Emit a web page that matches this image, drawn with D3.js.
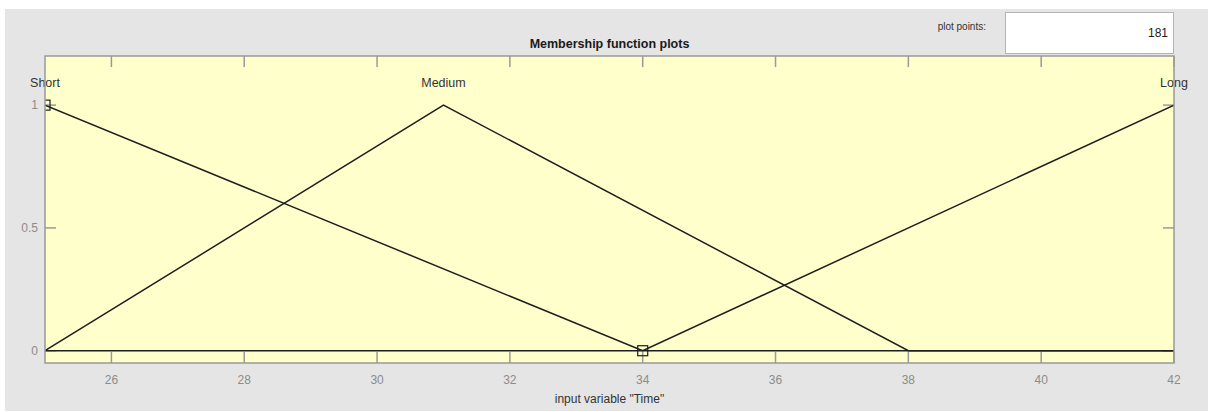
<!DOCTYPE html>
<html>
<head>
<meta charset="utf-8">
<script src="https://cdn.jsdelivr.net/npm/d3@7"></script>
<style>
  html, body { margin: 0; padding: 0; background: #ffffff; }
  svg { display: block; font-family: "Liberation Sans", Arial, sans-serif; }
</style>
</head>
<body>
<svg id="chart" width="1208" height="412"></svg>
<script>
// Membership functions of the input variable "Time" (vertices of each piecewise-linear MF)
const mfNames = ["Short", "Medium", "Long"];
const shortPts = [[25, 1], [34, 0], [42, 0]];
const mediumPts = [[25, 0], [31, 1], [38, 0], [42, 0]];
const longPts = [[25, 0], [34, 0], [42, 1]];
const mfPoints = [shortPts, mediumPts, longPts];
// label anchor (x position) for each MF name
const mfLabelX = [25, 31, 42];
// vertex markers of the highlighted MF
const markerPts = [[25, 1], [34, 0]];

const xTicks = [26, 28, 30, 32, 34, 36, 38, 40, 42];
const yTicks = [0, 0.5, 1];
const xDomain = [25, 42];
const yDomain = [-0.05, 1.2];
const plotPoints = 181;

(function draw() {
  const svg = d3.select("#chart");

  // panel background
  svg.append("rect").attr("x", 5).attr("y", 9).attr("width", 1203).attr("height", 402)
    .attr("fill", "#e5e5e5");

  const pL = 45, pR = 1174, pT = 56, pB = 363;
  const x = d3.scaleLinear().domain(xDomain).range([pL, pR]);
  const y = d3.scaleLinear().domain(yDomain).range([pB, pT]);

  // plot area
  svg.append("rect").attr("x", pL).attr("y", pT)
    .attr("width", pR - pL).attr("height", pB - pT)
    .attr("fill", "#ffffcc");

  svg.append("clipPath").attr("id", "plotclip")
    .append("rect").attr("x", pL).attr("y", pT)
    .attr("width", pR - pL).attr("height", pB - pT);

  const tickColor = "#9a9a9a";
  const tickLen = 11;

  // x ticks (bottom and top, pointing inward)
  const gx = svg.append("g");
  xTicks.forEach(t => {
    gx.append("line").attr("x1", x(t)).attr("x2", x(t))
      .attr("y1", pB).attr("y2", pB - tickLen)
      .attr("stroke", tickColor).attr("stroke-width", 1.5);
    gx.append("line").attr("x1", x(t)).attr("x2", x(t))
      .attr("y1", pT).attr("y2", pT + tickLen)
      .attr("stroke", tickColor).attr("stroke-width", 1.5);
    gx.append("text").attr("x", x(t)).attr("y", pB + 21)
      .attr("text-anchor", "middle").attr("font-size", 12)
      .attr("fill", "#8c8c8c").text(d3.format("d")(t));
  });

  // y ticks (left and right, pointing inward)
  const gy = svg.append("g");
  yTicks.forEach(t => {
    gy.append("line").attr("x1", pL).attr("x2", pL + tickLen)
      .attr("y1", y(t)).attr("y2", y(t))
      .attr("stroke", tickColor).attr("stroke-width", 1.5);
    gy.append("line").attr("x1", pR).attr("x2", pR - tickLen)
      .attr("y1", y(t)).attr("y2", y(t))
      .attr("stroke", tickColor).attr("stroke-width", 1.5);
    gy.append("text").attr("x", pL - 7).attr("y", y(t))
      .attr("dy", "0.35em").attr("text-anchor", "end").attr("font-size", 12)
      .attr("fill", "#8c8c8c").text(t === 0.5 ? "0.5" : d3.format("d")(t));
  });

  // membership function curves
  const line = d3.line().x(d => x(d[0])).y(d => y(d[1]));
  const curves = svg.append("g").attr("clip-path", "url(#plotclip)");
  mfPoints.forEach(pts => {
    curves.append("path").attr("d", line(pts))
      .attr("fill", "none").attr("stroke", "#1e1e1e")
      .attr("stroke-width", 1.5).attr("stroke-linejoin", "miter");
  });

  // vertex markers
  markerPts.forEach(p => {
    curves.append("rect")
      .attr("x", x(p[0]) - 5).attr("y", y(p[1]) - 5)
      .attr("width", 10).attr("height", 10)
      .attr("fill", "none").attr("stroke", "#1e1e1e").attr("stroke-width", 1.2);
  });

  // MF names
  mfNames.forEach((name, i) => {
    svg.append("text").attr("x", x(mfLabelX[i])).attr("y", y(1.1) + 2)
      .attr("dy", "0.35em").attr("text-anchor", "middle")
      .attr("font-size", 12.5).attr("fill", "#333333").text(name);
  });

  // plot frame
  svg.append("rect").attr("x", pL).attr("y", pT)
    .attr("width", pR - pL).attr("height", pB - pT)
    .attr("fill", "none").attr("stroke", "#999999").attr("stroke-width", 1.5);

  // title
  svg.append("text").attr("x", (pL + pR) / 2).attr("y", pT - 8)
    .attr("text-anchor", "middle").attr("font-size", 12.5).attr("font-weight", "bold")
    .attr("fill", "#1a1a1a").text("Membership function plots");

  // x axis label
  svg.append("text").attr("x", (pL + pR) / 2).attr("y", pB + 40)
    .attr("text-anchor", "middle").attr("font-size", 12)
    .attr("fill", "#333333").text('input variable "Time"');

  // plot points control
  svg.append("text").attr("x", 986).attr("y", 30)
    .attr("text-anchor", "end").attr("font-size", 10)
    .attr("fill", "#333333").text("plot points:");
  svg.append("rect").attr("x", 1005.5).attr("y", 12.5).attr("width", 168).attr("height", 41)
    .attr("fill", "#ffffff").attr("stroke", "#b4b4b4").attr("stroke-width", 1);
  svg.append("text").attr("x", 1168).attr("y", 37)
    .attr("text-anchor", "end").attr("font-size", 12)
    .attr("fill", "#1a1a1a").text(plotPoints);
})();
</script>
</body>
</html>
